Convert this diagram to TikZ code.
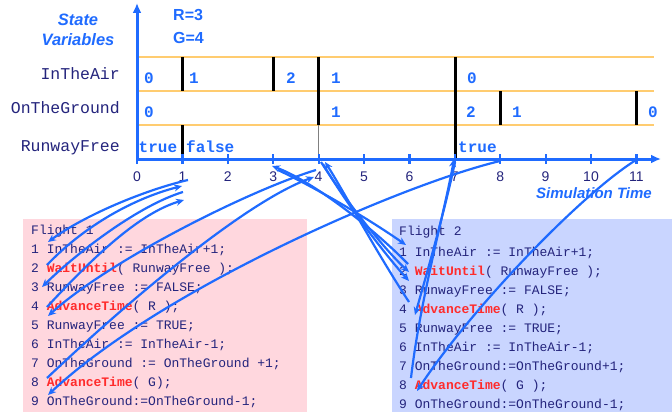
\documentclass[tikz,border=0pt]{standalone}
\usepackage{fontspec}
\setmainfont{Liberation Sans}
\newfontfamily\monof{Liberation Mono}
\usetikzlibrary{arrows.meta}
\definecolor{myblue}{HTML}{1F6BFF}
\definecolor{navy}{HTML}{24247C}
\definecolor{orangeline}{HTML}{FFCC70}
\definecolor{pinkbox}{HTML}{FFD7DE}
\definecolor{bluebox}{HTML}{C9D5FF}
\definecolor{redkw}{HTML}{FF2B2B}
\begin{document}
\begin{tikzpicture}[x=1pt,y=-1pt,
  axisline/.style={draw=myblue,line width=3pt},
  tickmark/.style={draw=myblue,line width=2.2pt},
  rowline/.style={draw=orangeline,line width=1.6pt},
  bar/.style={draw=black,line width=3pt},
  flow/.style={draw=myblue,line width=2.2pt,-{Stealth[length=8pt,width=7pt]}},
  code/.style={anchor=base west,inner sep=0pt,font=\monof\fontsize{13}{13}\selectfont,text=navy},
  kw/.style={},
  varname/.style={anchor=base east,inner sep=0pt,font=\monof\fontsize{16.5}{16.5}\selectfont,text=navy},
  val/.style={anchor=base,inner sep=0pt,font=\monof\bfseries\fontsize{16}{16}\selectfont,text=myblue},
  valw/.style={anchor=base west,inner sep=0pt,font=\monof\bfseries\fontsize{16}{16}\selectfont,text=myblue},
  ticklab/.style={anchor=base,inner sep=0pt,font=\fontsize{14}{14}\selectfont,text=navy},
  title/.style={anchor=base,inner sep=0pt,font=\bfseries\itshape\fontsize{16.5}{16.5}\selectfont,text=myblue},
  param/.style={anchor=base west,inner sep=0pt,font=\bfseries\fontsize{16}{16}\selectfont,text=myblue}
]
\newcommand{\kwd}[1]{{\color{redkw}\bfseries #1}}
\useasboundingbox (0,0) rectangle (672,412);

% code boxes
\fill[pinkbox] (23,219) rectangle (307,412);
\fill[bluebox] (392,219) rectangle (672,412);

% row lines
\foreach \yy in {57,91,125} \draw[rowline] (137,\yy) -- (654,\yy);

% black bars
\draw[bar] (182.5,57) -- (182.5,91);
\draw[bar] (182.5,125) -- (182.5,159);
\draw[bar] (273,57) -- (273,91);
\draw[bar] (318,57) -- (318,125);
\draw[draw=gray,line width=1pt] (318,125) -- (318,159);
\draw[bar] (455,57) -- (455,159);
\draw[bar] (500,91) -- (500,125);
\draw[bar] (636,91) -- (636,125);

% axes
\coordinate (origin) at (137,159);
\coordinate (xend) at (661,159);
\coordinate (yend) at (137,3);
\draw[axisline,-{Latex[length=10pt,width=9pt]}] (origin) -- (xend);
\draw[axisline,-{Latex[length=10pt,width=9pt]}] (origin) -- (yend);
\foreach \i in {0,...,11} {
  \coordinate (T\i) at ({137+45.4*\i},159);
  \draw[tickmark] ([yshift=-5pt]T\i) -- ([yshift=5pt]T\i);
  \node[ticklab] (TL\i) at ({137+45.4*\i},181) {\i};
}
\node[anchor=base east,inner sep=0pt,font=\bfseries\itshape\fontsize{15}{15}\selectfont,text=myblue] (simtime) at (652,198.5) {Simulation Time};

% titles
\node[title] (state) at (78,26) {State};
\node[title] (variables) at (78,45.5) {Variables};
\node[param] (rparam) at (173,21) {R=3};
\node[param] (gparam) at (173,44) {G=4};

% variable names
\node[varname] (vair) at (120,79.5) {InTheAir};
\node[varname] (vground) at (120,113.5) {OnTheGround};
\node[varname] (vrunway) at (120,151.5) {RunwayFree};

% values
\node[val] (a0) at (149,83.5) {0};
\node[val] (a1) at (194,83.5) {1};
\node[val] (a2) at (291,83.5) {2};
\node[val] (a3) at (336,83.5) {1};
\node[val] (a4) at (472,83.5) {0};
\node[val] (g0) at (149,117.5) {0};
\node[val] (g1) at (336,117.5) {1};
\node[val] (g2) at (471,117.5) {2};
\node[val] (g3) at (517,117.5) {1};
\node[val] (g4) at (653,117.5) {0};
\node[valw] (r0) at (138.5,152) {true};
\node[valw] (r1) at (186,152) {false};
\node[valw] (r2) at (458,152) {true};

% Flight 1 code
\node[code] (f1h) at (31,234.5) {Flight 1};
\node[code] (f1l1) at (31,253.5) {1 InTheAir := InTheAir+1;};
\node[code] (f1l2) at (31,272.5) {2 \kwd{WaitUntil}( RunwayFree );};
\node[code] (f1l3) at (31,291.5) {3 RunwayFree := FALSE;};
\node[code] (f1l4) at (31,310.5) {4 \kwd{AdvanceTime}( R );};
\node[code] (f1l5) at (31,329.5) {5 RunwayFree := TRUE;};
\node[code] (f1l6) at (31,348.5) {6 InTheAir := InTheAir-1;};
\node[code] (f1l7) at (31,367.5) {7 OnTheGround := OnTheGround +1;};
\node[code] (f1l8) at (31,386.5) {8 \kwd{AdvanceTime}( G);};
\node[code] (f1l9) at (31,405.5) {9 OnTheGround:=OnTheGround-1;};

% Flight 2 code
\node[code] (f2h) at (399,235.5) {Flight 2};
\node[code] (f2l1) at (399,256) {1 InTheAir := InTheAir+1;};
\node[code] (f2l2) at (399,275) {2 \kwd{WaitUntil}( RunwayFree );};
\node[code] (f2l3) at (399,294) {3 RunwayFree := FALSE;};
\node[code] (f2l4) at (399,313) {4 \kwd{AdvanceTime}( R );};
\node[code] (f2l5) at (399,332) {5 RunwayFree := TRUE;};
\node[code] (f2l6) at (399,351) {6 InTheAir := InTheAir-1;};
\node[code] (f2l7) at (399,370) {7 OnTheGround:=OnTheGround+1;};
\node[code] (f2l8) at (399,389) {8 \kwd{AdvanceTime}( G );};
\node[code] (f2l9) at (399,408) {9 OnTheGround:=OnTheGround-1;};

% connector end points
\coordinate (p1a) at (188,180);  \coordinate (q1a) at (48,242);
\coordinate (q1b) at (47,265);   \coordinate (p1b) at (182,186);
\coordinate (p1c) at (183,192);  \coordinate (q1c) at (42,287);
\coordinate (q1d) at (47,307);   \coordinate (p1d) at (184,200);
\coordinate (p4a) at (316,170);  \coordinate (q1e) at (48,316);
\coordinate (q1f) at (47,378);   \coordinate (p4b) at (314,177);
\coordinate (p8a) at (500,161);  \coordinate (q1g) at (48,395);
\coordinate (p3a) at (278,170);  \coordinate (q2a) at (406,245);
\coordinate (q2b) at (408,264);  \coordinate (p3b) at (272,166);
\coordinate (p4c) at (321,162);  \coordinate (q2c) at (409,272);
\coordinate (p4d) at (323,164);  \coordinate (q2d) at (409,281);
\coordinate (q2e) at (409,302);  \coordinate (p4e) at (325,162);
\coordinate (p7a) at (455,162);  \coordinate (q2f) at (415,315);
\coordinate (q2g) at (411,378);  \coordinate (p7b) at (454,159);
\coordinate (p11a) at (636,160); \coordinate (q2h) at (417,391);

% flow arrows: Flight 1
\draw[flow] (p1a) .. controls (145,190) and (85,215) .. (q1a);
\draw[flow] (q1b) .. controls (85,225) and (135,198) .. (p1b);
\draw[flow] (p1c) .. controls (140,205) and (80,250) .. (q1c);
\draw[flow] (q1d) .. controls (95,255) and (140,213) .. (p1d);
\draw[flow] (p4a) .. controls (250,190) and (110,260) .. (q1e);
\draw[flow] (q1f) .. controls (140,290) and (250,200) .. (p4b);
\draw[flow] (p8a) .. controls (400,185) and (160,290) .. (q1g);
% flow arrows: Flight 2
\draw[flow] (p3a) .. controls (320,190) and (370,220) .. (q2a);
\draw[flow] (q2b) .. controls (370,225) and (310,180) .. (p3b);
\draw[flow] (p4c) .. controls (345,200) and (385,250) .. (q2c);
\draw[flow] (p4d) .. controls (350,210) and (390,260) .. (q2d);
\draw[flow] (q2e) .. controls (375,250) and (340,185) .. (p4e);
\draw[flow] (p7a) .. controls (445,210) and (425,280) .. (q2f);
\draw[flow] (q2g) .. controls (420,300) and (445,210) .. (p7b);
\draw[flow] (p11a) .. controls (580,195) and (470,310) .. (q2h);
\end{tikzpicture}
\end{document}
